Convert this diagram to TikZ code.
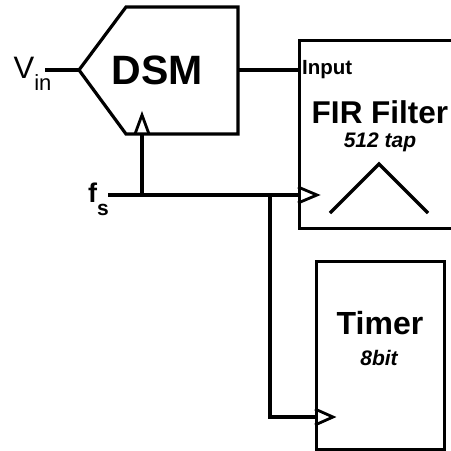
\documentclass[tikz,border=0pt]{standalone}
\usepackage{fontspec}
\setmainfont{Liberation Sans}
\newcommand{\fsz}[1]{\fontsize{#1}{#1}\selectfont}
\begin{document}
\begin{tikzpicture}[x=1pt,y=-1pt,line width=3.2pt,line join=miter,
  blk/.style={draw,line width=3.2pt,inner sep=0pt,anchor=north west},
  clk/.style={line width=2.8pt},
  lbl/.style={inner sep=0pt,font=\bfseries}]
\useasboundingbox (0,0) rectangle (451,451);
\clip (0,0) rectangle (451,451);
% DSM block
\coordinate (dtl) at (126,7);
\coordinate (dtr) at (238,7);
\coordinate (dbr) at (238,134);
\coordinate (dbl) at (126,134);
\coordinate (dpt) at (79,70);
\draw (dtl) -- (dtr) -- (dbr) -- (dbl) -- (dpt) -- cycle;
\node[lbl,font=\bfseries\fsz{41}] (dsm) at (157,70) {DSM};
% FIR block
\node[blk,minimum width=180pt,minimum height=188pt] (fir) at (298,39) {};
\node[lbl,anchor=west,font=\bfseries\fsz{20.5}] (inp) at (300.5,70) {Input};
\node[lbl,font=\bfseries\fsz{31.5}] (firt) at (380,112) {FIR Filter};
\node[lbl,font=\bfseries\itshape\fsz{21}] (tap) at (380,142) {512 tap};
\draw (330,213) -- (379,164) -- (428,213);
% Timer block
\node[blk,minimum width=128pt,minimum height=188pt] (tmr) at (315,260) {};
\node[lbl,font=\bfseries\fsz{32}] (tmrt) at (380,323) {Timer};
\node[lbl,font=\bfseries\itshape\fsz{21}] (bit) at (379,358) {8bit};
% labels
\node[inner sep=0pt,anchor=base west] (vin) at (12,78) {\fsz{31}V\raisebox{-12pt}{\fsz{22}in}};
\node[inner sep=0pt,anchor=base west] (fs) at (86.5,202) {\bfseries\fsz{27}f\raisebox{-13pt}{\fsz{21}s}};
% connectors
\coordinate (vinend) at (45,70);
\coordinate (dout) at (238,70);
\coordinate (fsstart) at (108,195);
\coordinate (dclk) at (142,134);
\coordinate (br) at (270,195);
\coordinate (firclk) at (298,195);
\coordinate (tmrclk) at (315,417);
\draw (vinend) -- (dpt);
\draw (dout) -- (dout -| fir.west);
\draw (fsstart) -- (firclk);
\draw (dclk |- fsstart) -- (dclk);
\draw (br) -- (br |- tmrclk) -- (tmrclk);
% clock triangles
\draw[clk] (135,134) -- (142,115) -- (149,134);
\draw[clk] (298,187) -- (317,195) -- (298,203);
\draw[clk] (315,409) -- (333,417) -- (315,425);
\end{tikzpicture}
\end{document}
